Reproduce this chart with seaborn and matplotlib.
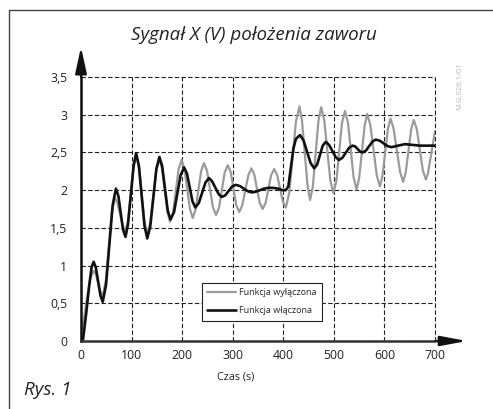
import matplotlib
matplotlib.use("Agg")
import matplotlib.pyplot as plt
import seaborn as sns
import pandas as pd

# --- data ---
t_off = [0, 6, 12, 18, 25, 29.5, 34, 38.5, 43, 49, 55, 61, 67, 72, 77.5, 83, 88, 93, 98.5, 104, 109,
         114.5, 120, 125.5, 131, 137, 143, 149, 155, 160, 165.5, 171, 176, 182, 187.5, 193, 199,
         204.5, 210, 215.5, 221, 226.5, 232, 237.5, 243, 249, 255, 261, 267, 273, 278.5, 284, 290,
         296, 301.5, 307, 313, 319, 325, 331, 337, 342.5, 348, 353.5, 359, 365, 370.5, 376, 382,
         388, 393.5, 399, 405, 412, 418.5, 425, 432, 437, 442.5, 448, 453, 458.5, 464, 469.5, 475,
         481, 487, 493, 499, 505, 510.5, 516, 522, 528, 533.5, 539, 545, 550, 555.5, 561, 566,
         572, 578.5, 585, 591, 596, 601.5, 607, 612, 618, 624.5, 631, 637, 642, 647.5, 653, 658,
         664, 670, 676, 682, 686, 691, 696, 700]
v_off = [0.12, 0.30, 0.58, 0.82, 0.93, 0.88, 0.765, 0.65, 0.60, 0.795, 1.25, 1.705, 1.90, 1.83, 1.675, 1.52, 1.45, 1.60, 1.96, 2.32, 2.47,
         2.31, 1.945, 1.58, 1.42, 1.57, 1.92, 2.27, 2.42, 2.29, 2.00, 1.71, 1.58, 1.70, 1.99, 2.28, 2.40,
         2.28, 2.015, 1.75, 1.63, 1.74, 1.995, 2.25, 2.36, 2.26, 2.015, 1.77, 1.67, 1.77, 2.00, 2.23, 2.33,
         2.24, 2.02, 1.80, 1.71, 1.80, 2.00, 2.20, 2.29, 2.21, 2.02, 1.83, 1.75, 1.83, 2.015, 2.20, 2.28,
         2.20, 2.025, 1.85, 1.77, 1.97, 2.44, 2.91, 3.11, 2.92, 2.49, 2.06, 1.87, 2.05, 2.485, 2.92, 3.10,
         2.93, 2.53, 2.13, 1.96, 2.12, 2.505, 2.89, 3.05, 2.89, 2.53, 2.17, 2.01, 2.16, 2.51, 2.86, 3.01,
         2.87, 2.53, 2.19, 2.05, 2.185, 2.50, 2.815, 2.95, 2.82, 2.53, 2.24, 2.11, 2.23, 2.52, 2.81, 2.93,
         2.81, 2.535, 2.26, 2.14, 2.22, 2.42, 2.62, 2.78]

t_on = [0, 4, 10, 16, 21, 25, 29.5, 34, 38.5, 43, 49.5, 56, 62.5, 69, 74, 78.5, 83, 88, 93, 98.5, 104, 109,
        114.5, 120, 125.5, 131, 137, 143, 149, 155, 160.5, 166, 171.5, 177, 184, 190.5, 197, 204,
        209.5, 215, 220.5, 226, 233, 239.5, 246, 253, 259, 265.5, 272, 278, 285, 292, 299, 306,
        314, 322, 330, 338, 346, 354, 362, 370, 380, 390, 398, 405, 410, 415, 420, 425, 433,
        440, 447, 454, 461, 467, 472.5, 478, 484, 490.5, 497, 503.5, 510, 517, 523.5, 530, 537,
        542, 547, 552, 557, 563.5, 570, 576.5, 583, 591, 598.5, 606, 614, 627, 641, 655, 670, 685, 700]
v_on = [0.0, 0.02, 0.35, 0.72, 0.98, 1.05, 0.97, 0.785, 0.60, 0.52, 0.745, 1.27, 1.795, 2.02, 1.92, 1.70, 1.48, 1.38, 1.55, 1.935, 2.32, 2.49,
        2.32, 1.925, 1.53, 1.36, 1.52, 1.90, 2.28, 2.44, 2.32, 2.025, 1.73, 1.61, 1.71, 1.955, 2.20, 2.30,
        2.22, 2.035, 1.85, 1.77, 1.83, 1.965, 2.10, 2.16, 2.12, 2.035, 1.95, 1.91, 1.93, 1.99, 2.05, 2.07,
        2.055, 2.02, 1.985, 1.97, 1.98, 2.00, 2.02, 2.03, 2.03, 2.02, 2.00, 2.00, 2.05, 2.30, 2.55, 2.68, 2.73,
        2.66, 2.51, 2.36, 2.29, 2.34, 2.465, 2.59, 2.64, 2.60, 2.52, 2.44, 2.40, 2.43, 2.495, 2.56, 2.59,
        2.58, 2.545, 2.51, 2.50, 2.525, 2.585, 2.645, 2.67, 2.655, 2.62, 2.585, 2.57, 2.59, 2.61, 2.60, 2.59, 2.59, 2.59]

x_ticks = [0, 100, 200, 300, 400, 500, 600, 700]
y_ticks = [0, 0.5, 1, 1.5, 2, 2.5, 3, 3.5]
y_tick_labels = ["0", "0,5", "1", "1,5", "2", "2,5", "3", "3,5"]
label_off = "Funkcja wyłączona"
label_on = "Funkcja włączona"
title = "Sygnał X (V) położenia zaworu"
xlabel = "Czas (s)"
caption = "Rys. 1"
watermark = "M.G.026.1/01"

sns.set_style("white")
plt.rcParams["font.family"] = ["Open Sans", "DejaVu Sans"]

W, H = 493, 409
fig = plt.figure(figsize=(W / 100, H / 100), dpi=100)
ax = fig.add_axes([81 / W, (H - 341) / H, 354 / W, 264 / H])

df_off = pd.DataFrame({"t": t_off, "v": v_off})
df_on = pd.DataFrame({"t": t_on, "v": v_on})
sns.lineplot(data=df_off, x="t", y="v", ax=ax, color="#9b9b9b", lw=1.6, label=label_off, zorder=3)
sns.lineplot(data=df_on, x="t", y="v", ax=ax, color="#111111", lw=1.9, label=label_on, zorder=4)

ax.set_xlim(0, 700)
ax.set_ylim(0, 3.5)
ax.set_xticks(x_ticks)
ax.set_yticks(y_ticks)
ax.set_yticklabels(y_tick_labels)
ax.tick_params(axis="both", length=0, labelsize=8.8, colors="#222222")
ax.tick_params(axis="x", pad=6)
ax.tick_params(axis="y", pad=10)
ax.set_xlabel("")
ax.set_ylabel("")
ax.grid(True, color="#222222", linestyle=(0, (4, 2)), linewidth=0.8, zorder=1)
for gl in ax.get_xgridlines() + ax.get_ygridlines():
    gl.set_clip_on(False)
ax.set_axisbelow(True)
for s in ["top", "right"]:
    ax.spines[s].set_visible(False)
ax.spines["left"].set_color("#111111")
ax.spines["left"].set_linewidth(1.8)
ax.spines["bottom"].set_color("#333333")
ax.spines["bottom"].set_linewidth(1.8)
for s in ["left", "bottom"]:
    ax.spines[s].set_zorder(5)

# axis arrows
ax.annotate("", xy=(467 / W, (H - 341) / H), xycoords="figure fraction",
            xytext=(435 / W, (H - 341) / H), textcoords="figure fraction",
            arrowprops=dict(arrowstyle="-|>,head_length=1.6,head_width=0.3", color="#111111", lw=1.6,
                            shrinkA=0, shrinkB=0))
ax.annotate("", xy=(81 / W, (H - 47) / H), xycoords="figure fraction",
            xytext=(81 / W, (H - 77) / H), textcoords="figure fraction",
            arrowprops=dict(arrowstyle="-|>,head_length=1.6,head_width=0.35", color="#111111", lw=1.6,
                            shrinkA=0, shrinkB=0))

leg = ax.legend(loc="upper left", bbox_to_anchor=(202 / W, 1 - 283 / H), bbox_transform=fig.transFigure,
                frameon=True, fancybox=False, fontsize=6.5, handlelength=3.2, borderpad=0.6,
                labelspacing=1.0, handletextpad=0.3, borderaxespad=0)
leg.get_frame().set_edgecolor("#222222")
leg.get_frame().set_linewidth(0.8)
leg.get_frame().set_facecolor("white")
leg.get_frame().set_alpha(1)
leg.set_zorder(10)

fig.text(254 / W, 1 - 35 / H, title, ha="center", va="center", fontsize=13.5, style="italic", color="#222222")
fig.text(236 / W, 1 - 377 / H, xlabel, ha="center", va="center", fontsize=7.8, color="#222222")
fig.text(24 / W, 1 - 390 / H, caption, ha="left", va="center", fontsize=13.5, style="italic", color="#222222")
fig.text(460 / W, 1 - 86 / H, watermark, ha="center", va="center", fontsize=5.5, rotation=90, color="#b8b8b8")

# outer frame (top and left)
fig.add_artist(plt.Line2D([9 / W, 9 / W], [0, 1 - 10 / H], transform=fig.transFigure, color="#444444", lw=1.0))
fig.add_artist(plt.Line2D([9 / W, 1], [1 - 10 / H, 1 - 10 / H], transform=fig.transFigure, color="#444444", lw=1.0))

fig.savefig("out.png", dpi=100)
